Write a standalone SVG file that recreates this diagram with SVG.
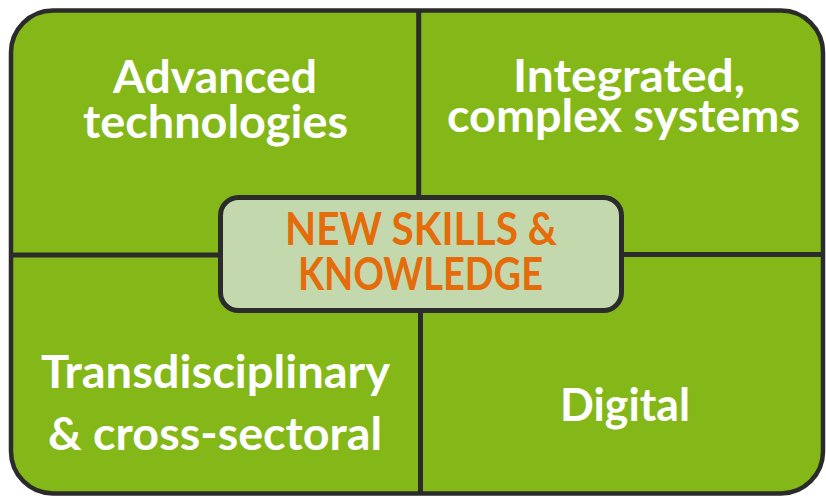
<svg xmlns="http://www.w3.org/2000/svg" width="826" height="496" viewBox="0 0 826 496">
  <style>
    .q { fill: #ffffff; font-family: Lato, "Open Sans", "DejaVu Sans", sans-serif; font-weight: bold; font-size: 46px; text-anchor: middle; }
    .c { fill: #E46C0A; font-family: Lato, "Open Sans", "DejaVu Sans", sans-serif; font-weight: bold; font-size: 45px; text-anchor: middle; }
    .ln { stroke: #2B2B2B; stroke-width: 5; fill: none; }
  </style>
  <rect x="0" y="0" width="826" height="496" fill="#ffffff"/>
  <g id="frame">
    <rect x="11" y="10.5" width="812" height="483" rx="42" ry="42" fill="#84B819" stroke="#2B2B2B" stroke-width="4.5"/>
  </g>
  <g id="connectors">
    <line class="ln" x1="418.7" y1="12" x2="418.7" y2="198"/>
    <line class="ln" x1="420.5" y1="310" x2="420.5" y2="492"/>
    <line class="ln" x1="13" y1="255" x2="221" y2="255"/>
    <line class="ln" x1="621" y1="254.5" x2="821" y2="254.5"/>
  </g>
  <g id="advanced-technologies">
    <text class="q" x="215" y="93" textLength="204" lengthAdjust="spacingAndGlyphs">Advanced</text>
    <text class="q" x="215.5" y="138" textLength="265" lengthAdjust="spacingAndGlyphs">technologies</text>
  </g>
  <g id="integrated-complex-systems">
    <text class="q" x="629" y="92" textLength="232" lengthAdjust="spacingAndGlyphs">Integrated,</text>
    <text class="q" x="623.5" y="132" textLength="353" lengthAdjust="spacingAndGlyphs">complex systems</text>
  </g>
  <g id="transdisciplinary">
    <text class="q" x="215.5" y="388" textLength="349" lengthAdjust="spacingAndGlyphs">Transdisciplinary</text>
    <text class="q" x="215" y="450" textLength="334" lengthAdjust="spacingAndGlyphs">&amp; cross-sectoral</text>
  </g>
  <g id="digital">
    <text class="q" x="625" y="421" textLength="130" lengthAdjust="spacingAndGlyphs">Digital</text>
  </g>
  <g id="new-skills">
    <rect x="220.5" y="197.5" width="401" height="113" rx="18" ry="18" fill="#C3D9AD" stroke="#2B2B2B" stroke-width="5"/>
    <text class="c" x="421" y="245" textLength="272" lengthAdjust="spacingAndGlyphs">NEW SKILLS &amp;</text>
    <text class="c" x="420.5" y="290" textLength="245" lengthAdjust="spacingAndGlyphs">KNOWLEDGE</text>
  </g>
</svg>
